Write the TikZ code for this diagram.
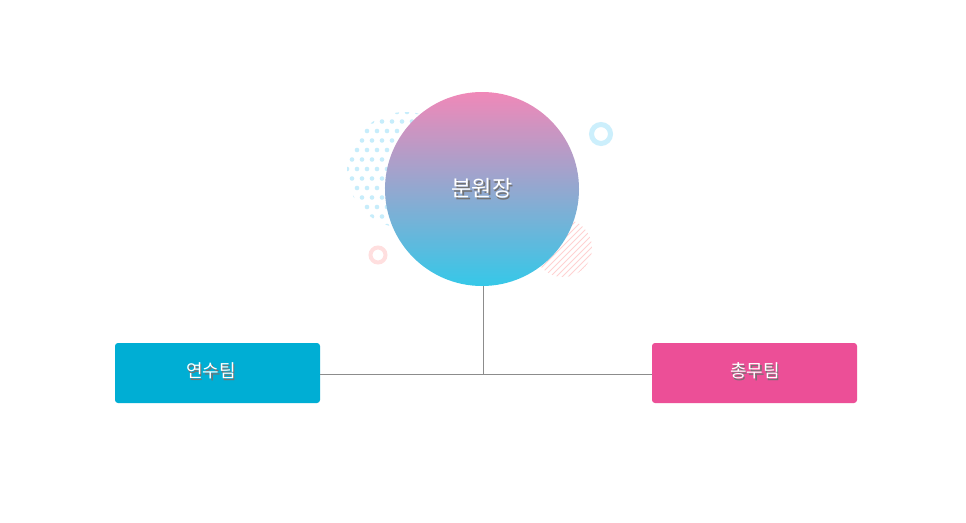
\documentclass[tikz,border=0pt]{standalone}
\usepackage{fontspec}
\newfontfamily\kr{Noto Sans CJK KR}
\usetikzlibrary{patterns}
\definecolor{cya}{HTML}{00AED4}
\definecolor{pnk}{HTML}{EC4F97}
\definecolor{gtop}{HTML}{F088B8}
\definecolor{gbot}{HTML}{35C8E8}
\newcommand{\shtxt}[1]{\makebox[0pt][l]{\hspace{1.5pt}\raisebox{-1.8pt}{\color{black!55}#1}}#1}
\tikzset{box/.style={rounded corners=3pt,minimum width=205pt,minimum height=60pt,inner sep=0pt},
lbl/.style={text=white,font=\kr\fontsize{18}{20}\selectfont},
big/.style={text=white,font=\kr\fontsize{22}{24}\selectfont},
con/.style={draw=black!45,line width=0.6pt}}
\begin{document}
\begin{tikzpicture}[x=1pt,y=-1pt]
\useasboundingbox[fill=white] (0,0) rectangle (966,522);
\begin{scope}
\clip (405,170) circle (58);
\foreach \i in {0,...,12}{\foreach \j in {0,...,12}{
 \fill[cyan!22] ({347+\i*10+mod(\j,2)*5},{112+\j*9.5}) circle (2.3);}}
\end{scope}
\begin{scope}
\clip (563,248) circle (29);
\foreach \k in {-80,-74,...,80}{\draw[pink!70,line width=1pt] (563+\k-40,248+40) -- (563+\k+40,248-40);}
\end{scope}
\draw[cyan!20,line width=5pt] (601,134) circle (9.5);
\draw[pink!50,line width=4pt] (378,255) circle (7.5);
\shade[top color=gtop,bottom color=gbot] (482,189) circle (97);
\node[big] (boss) at (482,189) {\shtxt{분원장}};
\coordinate (bb) at (483,286);
\coordinate (j) at (483,374);
\node[box,fill=cya] (l) at (217.5,373) {};
\node[lbl] (lt) at (211,372) {\shtxt{연수팀}};
\node[box,fill=pnk] (r) at (754.5,373) {};
\node[lbl] (rt) at (755,372) {\shtxt{총무팀}};
\draw[con] (bb) -- (j);
\draw[con] (l.east |- j) -- (r.west |- j);
\end{tikzpicture}
\end{document}
